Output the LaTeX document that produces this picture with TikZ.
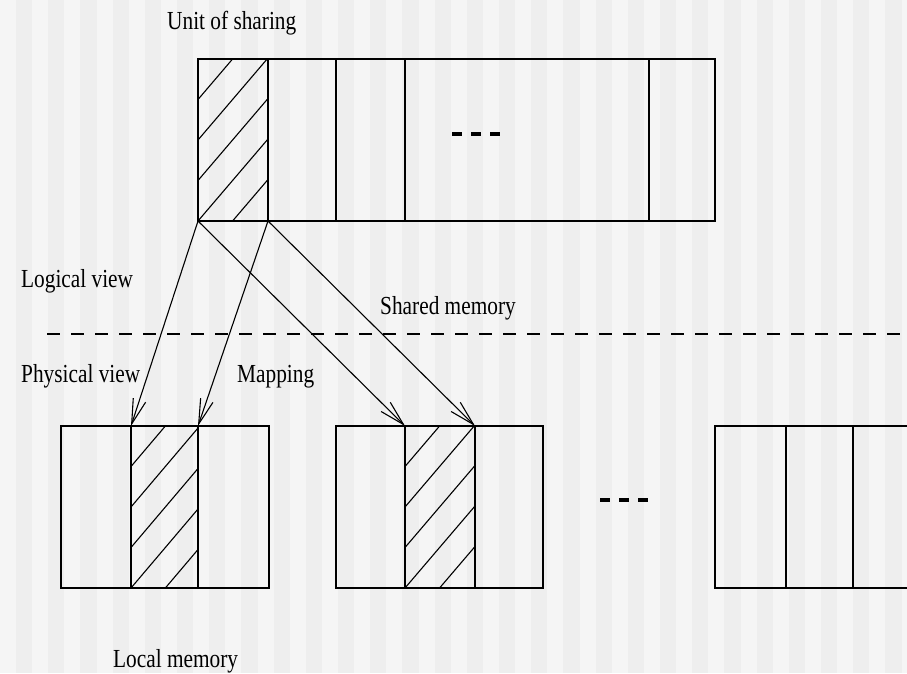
\documentclass[tikz,border=0pt]{standalone}
\usepackage{fontspec}
\usepackage{tikz}
\usetikzlibrary{arrows.meta, positioning}
\newfontfamily\lblfont[FakeStretch=0.82]{Liberation Serif}
\definecolor{stripelight}{HTML}{F5F5F5}
\definecolor{stripedark}{HTML}{EEEEEE}

\tikzset{
    cell/.style={draw=black, line width=1.5pt, inner sep=0pt, outer sep=0pt,
        minimum height=162pt},
    lbl/.style={font=\lblfont\fontsize{26}{30}\selectfont, inner sep=0pt, anchor=base west},
    maparrow/.style={-{Straight Barb[length=25pt, width=13pt, line width=1.1pt]}, line width=1.1pt},
    hatch/.style={line width=1.1pt},
    dots/.style={fill=black}
}

\begin{document}
\begin{tikzpicture}[x=1pt, y=-1pt]
        \useasboundingbox (0,0) rectangle (907,673);
        \clip (0,0) rectangle (907,673);

        % background stripes
        \fill[stripelight] (0,0) rectangle (907,673);
        \foreach \i in {0,...,28}
            \fill[stripedark] ({16+32.2*\i},0) rectangle ++(16.1,673);

        % shared memory (logical view)
        \node[cell, minimum width=70pt]  (u1) at (233,140) {};
        \node[cell, minimum width=68pt]  (u2) at (302,140) {};
        \node[cell, minimum width=69pt]  (u3) at (370.5,140) {};
        \node[cell, minimum width=244pt] (u4) at (527,140) {};
        \node[cell, minimum width=66pt]  (u5) at (682,140) {};

        % local memories (physical view)
        \node[cell, minimum width=70pt] (a1) at (96,507) {};
        \node[cell, minimum width=67pt] (a2) at (164.5,507) {};
        \node[cell, minimum width=71pt] (a3) at (233.5,507) {};

        \node[cell, minimum width=69pt] (b1) at (370.5,507) {};
        \node[cell, minimum width=70pt] (b2) at (440,507) {};
        \node[cell, minimum width=68pt] (b3) at (509,507) {};

        \node[cell, minimum width=71pt] (c1) at (750.5,507) {};
        \node[cell, minimum width=67pt] (c2) at (819.5,507) {};
        \node[cell, minimum width=67pt] (c3) at (886.5,507) {};

        % hatching
        \begin{scope}
            \clip (u1.north west) rectangle (u1.south east);
            \foreach \k in {-1,...,4}
                \draw[hatch] (198,{221-40.5*\k}) -- ++(70,-82);
        \end{scope}
        \begin{scope}
            \clip (a2.north west) rectangle (a2.south east);
            \foreach \k in {-1,...,4}
                \draw[hatch] (131,{588-40.5*\k}) -- ++(67,-79);
        \end{scope}
        \begin{scope}
            \clip (b2.north west) rectangle (b2.south east);
            \foreach \k in {-1,...,4}
                \draw[hatch] (405,{588-40.5*\k}) -- ++(70,-82);
        \end{scope}

        % dots
        \foreach \x in {452,471,490}
            \fill[dots] (\x,132) rectangle ++(10,4);
        \foreach \x in {600,619,638}
            \fill[dots] (\x,498) rectangle ++(10,4);

        % mapping arrows
        \draw[maparrow] (u1.south west) -- (a2.north west);
        \draw[maparrow] (u1.south east) -- (a2.north east);
        \draw[maparrow] (u1.south west) -- (b2.north west);
        \draw[maparrow] (u1.south east) -- (b2.north east);

        % separator
        \coordinate (sepl) at (47,334);
        \coordinate (sepr) at (907,334);
        \draw[line width=1.1pt, dash pattern=on 13pt off 11pt] (sepl) -- (sepr);

        % labels
        \node[lbl] (unit)     at (167,29)  {Unit of sharing};
        \node[lbl] (logical)  at (21,287)  {Logical view};
        \node[lbl] (shared)   at (380,314) {Shared memory};
        \node[lbl] (physical) at (21,382)  {Physical view};
        \node[lbl] (mapping)  at (237,382) {Mapping};
        \node[lbl] (local)    at (113,667) {Local memory};

\end{tikzpicture}
\end{document}
